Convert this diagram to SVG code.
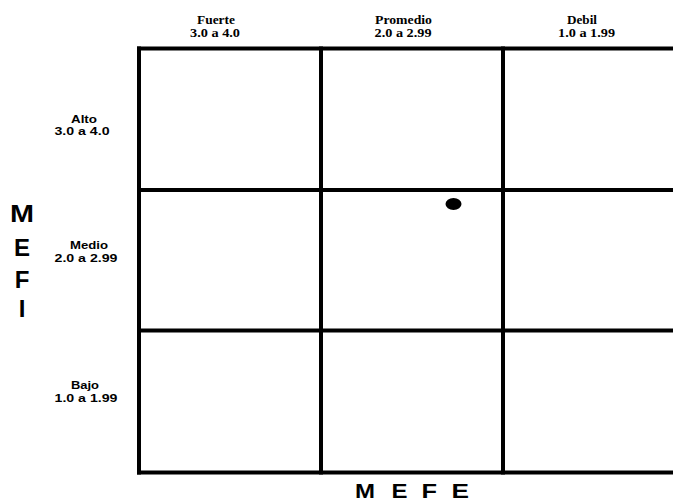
<svg xmlns="http://www.w3.org/2000/svg" width="673" height="500" viewBox="0 0 673 500">
<style>
.grid line{stroke:#000;stroke-width:4;stroke-linecap:square}
.top{font-family:"Liberation Serif","Times New Roman",serif;font-weight:bold;font-size:12px;text-anchor:middle;fill:#000}
.side{font-family:"Liberation Sans",Arial,sans-serif;font-weight:bold;font-size:10px;text-anchor:middle;fill:#000}
.axis{font-family:"Liberation Sans",Arial,sans-serif;font-weight:bold;font-size:24px;text-anchor:middle;fill:#000}
.axis2{font-family:"Liberation Sans",Arial,sans-serif;font-weight:bold;font-size:21px;fill:#000}
</style>
<rect width="673" height="500" fill="#fff"/>
<g id="grid" class="grid">
<line x1="139" y1="48.5" x2="673" y2="48.5"/>
<line x1="139" y1="190" x2="673" y2="190"/>
<line x1="139" y1="330.5" x2="673" y2="330.5"/>
<line x1="139" y1="472.5" x2="673" y2="472.5"/>
<line x1="139" y1="48.5" x2="139" y2="472.5"/>
<line x1="321" y1="48.5" x2="321" y2="472.5"/>
<line x1="503" y1="48.5" x2="503" y2="472.5"/>
</g>
<g id="col-labels">
<text class="top" x="216" y="23.5" textLength="38" lengthAdjust="spacingAndGlyphs">Fuerte</text>
<text class="top" x="215" y="36.7" textLength="50" lengthAdjust="spacingAndGlyphs">3.0 a 4.0</text>
<text class="top" x="403.5" y="23.5" textLength="57" lengthAdjust="spacingAndGlyphs">Promedio</text>
<text class="top" x="403" y="36.7" textLength="57" lengthAdjust="spacingAndGlyphs">2.0 a 2.99</text>
<text class="top" x="582" y="23.5" textLength="30" lengthAdjust="spacingAndGlyphs">Debil</text>
<text class="top" x="586.5" y="36.7" textLength="57" lengthAdjust="spacingAndGlyphs">1.0 a 1.99</text>
</g>
<g id="row-labels">
<text class="side" x="84" y="122.7" textLength="26" lengthAdjust="spacingAndGlyphs">Alto</text>
<text class="side" x="82" y="135.3" textLength="55" lengthAdjust="spacingAndGlyphs">3.0 a 4.0</text>
<text class="side" x="89" y="249" textLength="38" lengthAdjust="spacingAndGlyphs">Medio</text>
<text class="side" x="86" y="262.3" textLength="63" lengthAdjust="spacingAndGlyphs">2.0 a 2.99</text>
<text class="side" x="85" y="389" textLength="28" lengthAdjust="spacingAndGlyphs">Bajo</text>
<text class="side" x="86" y="402" textLength="63" lengthAdjust="spacingAndGlyphs">1.0 a 1.99</text>
</g>
<g id="mefi">
<text class="axis" x="22" y="222" textLength="24" lengthAdjust="spacingAndGlyphs">M</text>
<text class="axis" x="22" y="256">E</text>
<text class="axis" x="22" y="288">F</text>
<text class="axis" x="22" y="317">I</text>
</g>
<g id="mefe">
<text class="axis2" x="355" y="497.5" textLength="20" lengthAdjust="spacingAndGlyphs">M</text>
<text class="axis2" x="391.5" y="497.5" textLength="16" lengthAdjust="spacingAndGlyphs">E</text>
<text class="axis2" x="421.5" y="497.5" textLength="15.5" lengthAdjust="spacingAndGlyphs">F</text>
<text class="axis2" x="451.5" y="497.5" textLength="17.5" lengthAdjust="spacingAndGlyphs">E</text>
</g>
<g id="dot">
<ellipse cx="453.5" cy="204" rx="8" ry="6" fill="#000"/>
</g>
</svg>
